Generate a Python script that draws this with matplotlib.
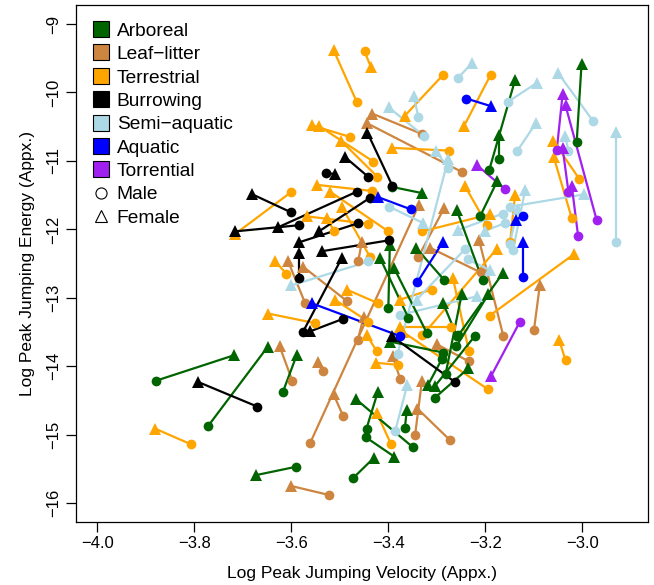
import matplotlib
matplotlib.use("Agg")
import matplotlib.pyplot as plt
from matplotlib.lines import Line2D

plt.rcParams['font.family'] = ['Liberation Sans', 'DejaVu Sans']
plt.rcParams['axes.unicode_minus'] = True

# Arboreal: male (circle) / female (triangle), log velocity and log energy
arb_m_v = [-3.878, -3.771, -3.617, -3.591, -3.350, -3.445, -3.446, -3.472, -3.366, -3.012, -3.192, -3.172, -3.211,
           -3.393, -3.400, -3.359, -3.321, -3.285, -3.206, -3.256, -3.260, -3.259, -3.222, -3.290, -3.304, -3.287, -3.282]
arb_m_e = [-14.21, -14.87, -14.37, -15.47, -15.18, -14.91, -15.04, -15.63, -14.90, -10.73, -11.13, -10.97, -11.81,
           -11.38, -13.15, -13.29, -13.51, -12.74, -12.74, -13.55, -13.71, -13.56, -13.56, -13.90, -14.46, -13.80, -14.11]
arb_f_v = [-3.718, -3.649, -3.589, -3.672, -3.467, -3.422, -3.388, -3.430, -3.362, -3.002, -3.139, -3.172, -3.176,
           -3.331, -3.397, -3.417, -3.388, -3.343, -3.259, -3.164, -3.194, -3.287, -3.304, -3.318, -3.235, -3.397, -3.249]
arb_f_e = [-13.84, -13.72, -13.84, -15.59, -14.48, -14.38, -15.32, -15.34, -14.64, -9.59, -9.82, -10.62, -11.30,
           -11.47, -12.23, -12.42, -12.57, -12.27, -11.72, -12.64, -12.95, -13.08, -14.29, -14.27, -14.03, -13.64, -12.95]

# Leaf-litter
ll_m_v = [-3.330, -3.249, -3.523, -3.598, -3.534, -3.493, -3.561, -3.345, -3.273, -3.572, -3.485, -3.462, -3.338,
          -3.210, -3.463, -3.376, -3.234, -3.163, -3.100]
ll_m_e = [-10.61, -11.16, -15.88, -14.21, -14.07, -14.73, -15.12, -15.01, -15.08, -13.07, -13.05, -12.47, -12.40,
          -12.63, -13.62, -14.18, -13.93, -13.56, -13.47]
ll_f_v = [-3.433, -3.444, -3.600, -3.624, -3.544, -3.513, -3.337, -3.331, -3.340, -3.607, -3.575, -3.455, -3.285,
          -3.314, -3.451, -3.391, -3.300, -3.213, -3.088]
ll_f_e = [-10.31, -10.45, -15.75, -13.71, -13.94, -14.41, -11.64, -14.22, -14.62, -12.46, -12.55, -12.19, -11.69,
          -12.27, -13.28, -13.85, -13.68, -12.16, -12.82]

# Terrestrial
ter_m_v = [-3.465, -3.449, -3.288, -3.189, -3.479, -3.431, -3.423, -3.276, -3.433, -3.400, -3.438, -3.442, -3.512,
           -3.601, -3.610, -3.551, -3.807, -3.395, -3.421, -3.441, -3.424, -3.381, -3.270, -3.234, -3.330, -3.194,
           -3.191, -3.035, -3.149, -3.197, -3.330, -3.007, -3.022, -3.311]
ter_m_e = [-10.14, -9.40, -9.75, -9.74, -10.65, -11.01, -11.23, -10.85, -11.44, -12.03, -12.40, -11.92, -12.02,
           -11.46, -12.65, -13.37, -15.14, -15.13, -13.08, -13.35, -13.78, -13.98, -13.42, -13.78, -13.55, -14.34,
           -13.26, -13.91, -12.18, -11.93, -12.03, -11.26, -11.84, -12.88]
ter_f_v = [-3.513, -3.436, -3.366, -3.244, -3.558, -3.543, -3.497, -3.393, -3.548, -3.520, -3.496, -3.568, -3.527,
           -3.716, -3.634, -3.648, -3.881, -3.424, -3.486, -3.510, -3.445, -3.425, -3.376, -3.267, -3.177, -3.370,
           -3.017, -3.048, -3.139, -3.242, -3.190, -3.060, -3.059, -3.377]
ter_f_e = [-9.38, -9.63, -10.34, -10.49, -10.48, -10.49, -10.71, -10.81, -11.35, -11.45, -11.67, -11.81, -11.84,
           -12.07, -12.46, -13.23, -14.91, -14.68, -12.88, -13.03, -13.54, -13.95, -13.42, -12.71, -12.29, -13.50,
           -12.36, -13.62, -11.50, -11.37, -11.78, -10.71, -10.95, -13.03]

# Burrowing
bur_m_v = [-3.601, -3.584, -3.465, -3.438, -3.462, -3.584, -3.398, -3.576, -3.494, -3.442, -3.392, -3.528, -3.670, -3.263]
bur_m_e = [-11.75, -11.94, -11.45, -11.54, -11.91, -12.71, -12.16, -13.50, -13.31, -11.23, -11.36, -11.18, -14.59, -14.23]
bur_f_v = [-3.680, -3.716, -3.627, -3.543, -3.584, -3.584, -3.537, -3.496, -3.561, -3.490, -3.443, -3.510, -3.792, -3.393]
bur_f_e = [-11.49, -12.03, -11.97, -12.03, -12.19, -12.35, -12.32, -12.42, -13.49, -10.94, -10.59, -11.19, -14.23, -13.56]

# Semi-aquatic
sem_m_v = [-3.257, -3.338, -3.326, -3.154, -2.978, -3.135, -3.029, -2.930, -3.277, -3.381, -3.398, -3.441, -3.164,
           -3.376, -3.242, -3.143, -3.149, -3.150, -3.160, -3.236, -3.386]
sem_m_e = [-9.79, -10.36, -10.64, -10.14, -10.42, -10.86, -10.85, -12.18, -11.10, -13.82, -11.67, -12.47, -11.77,
           -13.25, -12.29, -12.30, -11.67, -12.21, -11.91, -12.44, -14.95]
sem_f_v = [-3.227, -3.348, -3.399, -3.094, -3.051, -3.096, -3.036, -2.930, -3.302, -3.277, -3.328, -3.600, -3.256,
           -3.218, -3.342, -3.118, -2.997, -3.133, -3.200, -3.190, -3.361]
sem_f_e = [-9.57, -10.05, -10.22, -9.86, -9.71, -10.45, -10.63, -10.58, -10.86, -10.98, -11.91, -12.82, -12.01,
           -12.98, -13.03, -11.42, -11.49, -11.70, -12.02, -12.60, -14.27]

# Aquatic
aq_m_v = [-3.239, -3.340, -3.376, -3.353, -3.122, -3.122]
aq_m_e = [-10.09, -12.77, -13.56, -11.71, -12.69, -11.80]
aq_f_v = [-3.189, -3.288, -3.558, -3.421, -3.122, -3.137]
aq_f_e = [-10.20, -12.19, -13.08, -11.53, -12.18, -11.86]

# Torrential
tor_m_v = [-3.053, -2.971, -3.029, -3.009, -3.160, -3.129]
tor_m_e = [-10.84, -11.86, -11.45, -12.10, -11.41, -13.35]
tor_f_v = [-3.041, -3.035, -3.041, -3.022, -3.218, -3.188]
tor_f_e = [-10.03, -10.19, -10.81, -11.37, -11.06, -14.14]

habitats = ['Arboreal', 'Leaf\u2212litter', 'Terrestrial', 'Burrowing', 'Semi\u2212aquatic', 'Aquatic', 'Torrential']
colors = ['#006400', '#CD853F', '#FFA500', '#000000', '#ADD8E6', '#0000FF', '#A020F0']
groups = [
    (arb_m_v, arb_m_e, arb_f_v, arb_f_e),
    (ll_m_v, ll_m_e, ll_f_v, ll_f_e),
    (ter_m_v, ter_m_e, ter_f_v, ter_f_e),
    (bur_m_v, bur_m_e, bur_f_v, bur_f_e),
    (sem_m_v, sem_m_e, sem_f_v, sem_f_e),
    (aq_m_v, aq_m_e, aq_f_v, aq_f_e),
    (tor_m_v, tor_m_e, tor_f_v, tor_f_e),
]

fig = plt.figure(figsize=(6.54, 5.85), dpi=100)
ax = fig.add_axes([0.1162, 0.1072, 0.8739, 0.8846])

draw_order = [1, 2, 4, 0, 3, 5, 6]
for i in draw_order:
    mv, me, fv, fe = groups[i]
    c = colors[i]
    for k in range(len(mv)):
        ax.plot([mv[k], fv[k]], [me[k], fe[k]], color=c, lw=1.6, zorder=2)
    ax.plot(mv, me, 'o', color=c, ms=7, mew=0, zorder=3)
    ax.plot(fv, fe, '^', color=c, ms=8, mew=0, zorder=3)

ax.set_xlim(-4.0436, -2.866)
ax.set_ylim(-16.28, -8.72)
xt = [-4.0, -3.8, -3.6, -3.4, -3.2, -3.0]
ax.set_xticks(xt)
ax.set_xticklabels(['\u2212%.1f' % abs(v) for v in xt])
yt = [-9, -10, -11, -12, -13, -14, -15, -16]
ax.set_yticks(yt)
ax.set_yticklabels(['\u2212%d' % abs(v) for v in yt], rotation=90, va='center')
ax.tick_params(direction='out', length=7, width=0.9, labelsize=12, pad=3)
ax.tick_params(axis='y', pad=4)
for s in ax.spines.values():
    s.set_linewidth(0.9)

ax.set_xlabel('Log Peak Jumping Velocity (Appx.)', fontsize=12.5, labelpad=11)
ax.set_ylabel('Log Peak Jumping Energy (Appx.)', fontsize=12.5, labelpad=7.5)

handles = [Line2D([], [], marker='s', ls='none', ms=11, mfc=c, mec='black', mew=0.8) for c in colors]
handles.append(Line2D([], [], marker='o', ls='none', ms=8, mfc='none', mec='black', mew=0.8))
handles.append(Line2D([], [], marker='^', ls='none', ms=8.5, mfc='none', mec='black', mew=0.8))
labels = habitats + ['Male', 'Female']
ax.legend(handles, labels, loc='upper left', bbox_to_anchor=(0.0295, 0.966), frameon=False,
          fontsize=13.8, handlelength=0.8, handletextpad=0.45, labelspacing=0.31,
          borderpad=0, borderaxespad=0)

fig.savefig('out.png', dpi=100)
